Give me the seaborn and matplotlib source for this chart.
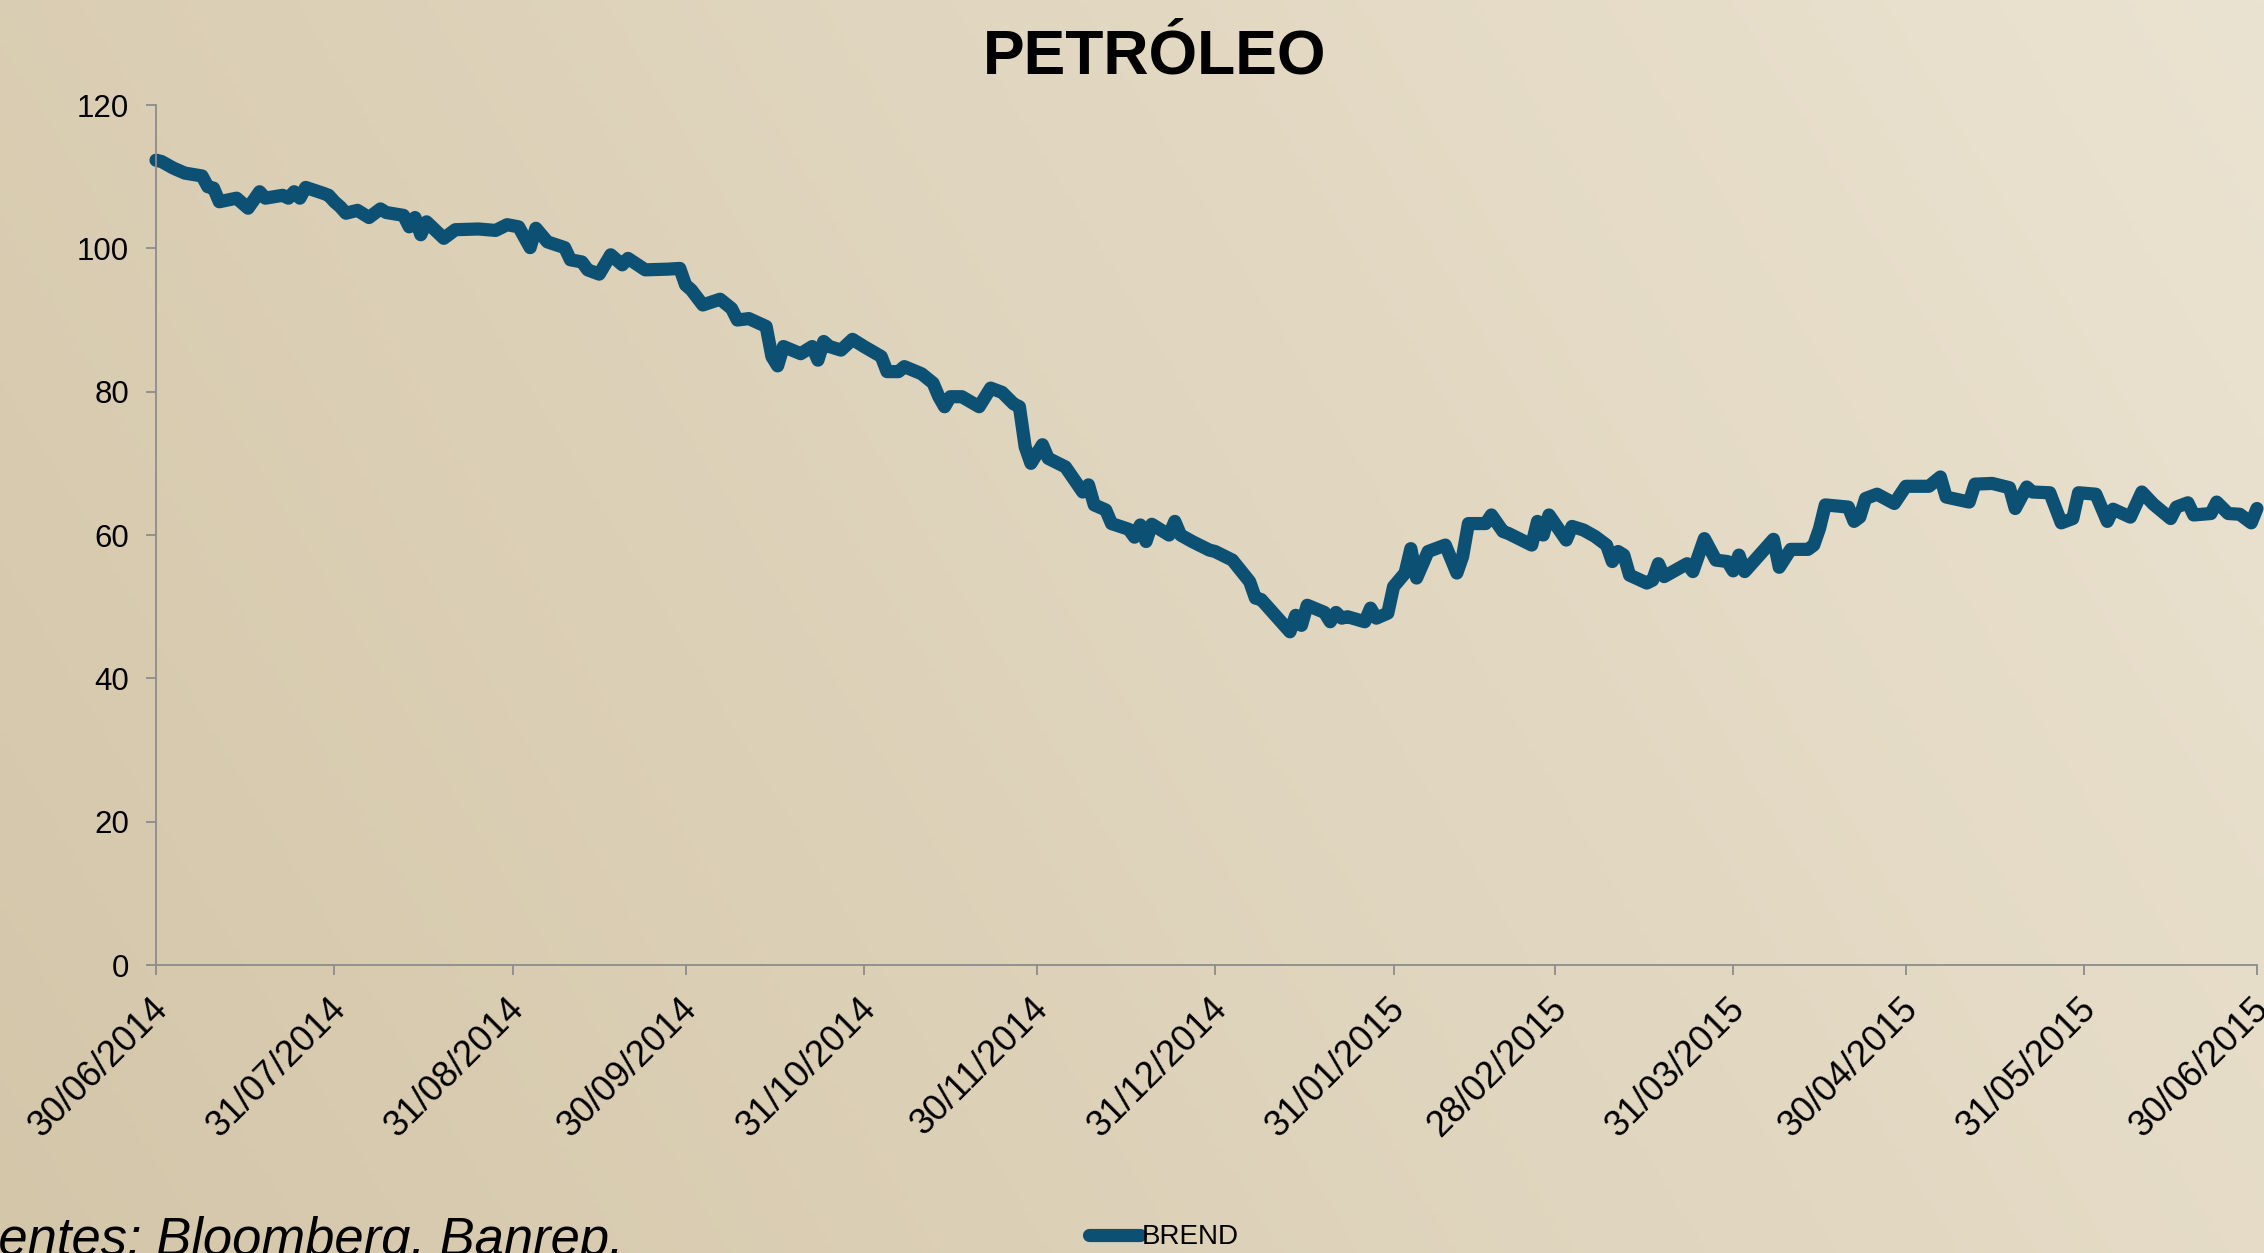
import numpy as np
import pandas as pd
import matplotlib
matplotlib.use('Agg')
import matplotlib.pyplot as plt
import matplotlib.transforms as mtransforms
import seaborn as sns

# ----------------------------------------------------------------------
# Datos: precio Brent (USD/barril)
# dias = dias transcurridos desde INICIO
# ----------------------------------------------------------------------
INICIO = '2014-06-30'
dias = [0, 1, 3, 5, 8, 9, 10, 11, 14, 16, 18, 19, 22, 23, 24, 25, 26, 29, 30, 31,
        32, 33, 35, 37, 39, 40, 43, 44, 45, 46, 47, 50, 52, 56, 59, 61, 63, 65, 66, 68,
        71, 72, 74, 75, 77, 79, 81, 82, 85, 89, 91, 92, 93, 95, 98, 100, 101, 103, 106, 107,
        108, 109, 112, 114, 115, 116, 117, 119, 121, 123, 126, 127, 129, 130, 133, 135, 136, 137, 138, 140,
        143, 145, 147, 149, 150, 151, 152, 154, 155, 158, 161, 162, 163, 165, 166, 169, 170, 171, 172, 173,
        176, 177, 178, 180, 183, 184, 187, 190, 191, 192, 197, 198, 199, 200, 203, 204, 205, 206, 207, 210,
        211, 212, 214, 215, 217, 218, 219, 221, 224, 226, 227, 228, 231, 232, 234, 235, 239, 240, 241, 242,
        245, 246, 248, 250, 252, 253, 254, 255, 256, 259, 260, 261, 262, 264, 266, 267, 269, 271, 273, 274,
        275, 276, 281, 282, 284, 287, 288, 289, 290, 294, 295, 296, 297, 299, 302, 304, 308, 310, 311, 315,
        316, 319, 322, 323, 325, 326, 329, 331, 333, 334, 337, 339, 340, 343, 345, 347, 350, 351, 353, 354,
        357, 358, 360, 362, 364, 365]
precios = [112.3, 112.1, 111.2, 110.5, 110.1, 108.6, 108.4, 106.5, 107.0, 105.6, 107.9, 107.0, 107.4, 107.0, 107.9, 107.0, 108.5, 107.7, 107.4, 106.5,
           105.8, 104.9, 105.3, 104.3, 105.5, 105.0, 104.6, 103.0, 104.3, 101.9, 103.7, 101.4, 102.6, 102.7, 102.5, 103.3, 103.0, 100.1, 102.8, 100.9,
           100.1, 98.4, 98.1, 97.0, 96.4, 99.1, 97.7, 98.6, 97.0, 97.1, 97.2, 94.9, 94.2, 92.1, 92.9, 91.6, 90.0, 90.2, 89.1, 84.9,
           83.6, 86.3, 85.3, 86.3, 84.4, 87.0, 86.3, 85.8, 87.3, 86.3, 84.9, 82.8, 82.8, 83.5, 82.5, 81.2, 79.3, 77.9, 79.3, 79.3,
           77.9, 80.5, 79.9, 78.3, 77.9, 72.3, 70.0, 72.6, 70.7, 69.5, 66.0, 67.0, 64.2, 63.5, 61.6, 60.8, 59.7, 61.4, 59.1, 61.5,
           60.0, 61.9, 60.0, 59.1, 57.9, 57.7, 56.5, 53.5, 51.2, 51.0, 46.5, 48.8, 47.4, 50.2, 49.2, 47.9, 49.2, 48.4, 48.6, 47.9,
           49.8, 48.4, 49.1, 52.8, 54.7, 58.1, 54.0, 57.7, 58.6, 54.7, 57.0, 61.6, 61.6, 62.8, 60.5, 60.2, 58.6, 61.9, 60.0, 62.8,
           59.3, 61.2, 60.7, 59.8, 58.6, 56.3, 57.7, 57.2, 54.4, 53.3, 53.7, 56.0, 54.2, 55.1, 56.0, 54.9, 59.5, 56.5, 56.3, 55.0,
           57.2, 54.9, 59.4, 55.5, 58.0, 58.0, 58.6, 60.9, 64.2, 63.9, 61.9, 62.5, 65.1, 65.7, 64.4, 66.8, 66.8, 68.1, 65.3, 64.6,
           67.1, 67.2, 66.6, 63.7, 66.7, 66.0, 65.9, 61.7, 62.3, 65.9, 65.7, 61.9, 63.6, 62.5, 66.0, 64.3, 62.3, 63.9, 64.5, 62.8,
           63.0, 64.6, 63.0, 62.9, 61.7, 63.7]

ticks_fechas = ['2014-06-30', '2014-07-31', '2014-08-31', '2014-09-30', '2014-10-31',
                '2014-11-30', '2014-12-31', '2015-01-31', '2015-02-28', '2015-03-31',
                '2015-04-30', '2015-05-31', '2015-06-30']
ticks_y = [0, 20, 40, 60, 80, 100, 120]

AZUL = '#0C5074'
GRIS = '#8C8C8C'
FONDO_OSCURO = np.array([212, 198, 169]) / 255
FONDO_CLARO = np.array([235, 227, 209]) / 255

sns.set_theme(style='ticks')
plt.rcParams['font.family'] = ['Liberation Sans', 'DejaVu Sans']
plt.rcParams['text.color'] = 'black'

fig = plt.figure(figsize=(22.64, 12.53), dpi=100)

# fondo tipo papel: degradado suave de abajo-izquierda a arriba-derecha
bg = fig.add_axes([0, 0, 1, 1], zorder=-1)
gx, gy = np.meshgrid(np.linspace(0, 1, 400), np.linspace(0, 1, 250))
t = (0.75 * gx + 0.25 * gy)[..., None]
bg.imshow(FONDO_OSCURO * (1 - t) + FONDO_CLARO * t, extent=[0, 1, 0, 1],
          aspect='auto', origin='lower')
bg.axis('off')

ax = fig.add_axes([0.0689, 0.2298, 0.928, 0.6864])
ax.patch.set_alpha(0)

df = pd.DataFrame({
    'fecha': pd.Timestamp(INICIO) + pd.to_timedelta(dias, unit='D'),
    'precio': precios,
})
sns.lineplot(data=df, x='fecha', y='precio', ax=ax, color=AZUL,
             linewidth=9.5, label='BREND', legend=False)
linea = ax.lines[0]
linea.set_solid_capstyle('round')
linea.set_solid_joinstyle('round')
linea.set_clip_on(False)

ticks = pd.to_datetime(ticks_fechas)
ax.set_xlim(ticks[0], ticks[-1])
ax.set_ylim(0, 120)
ax.set_xticks(ticks)
ax.set_xticklabels([d.strftime('%d/%m/%Y') for d in ticks])
ax.set_yticks(ticks_y)
ax.set_xlabel('')
ax.set_ylabel('')

for side in ['top', 'right']:
    ax.spines[side].set_visible(False)
for side in ['left', 'bottom']:
    ax.spines[side].set_color(GRIS)
    ax.spines[side].set_linewidth(1.3)

ax.tick_params(axis='both', colors=GRIS, labelcolor='black', length=7.5, width=1.3)
ax.tick_params(axis='y', labelsize=22.5, pad=12)
ax.tick_params(axis='x', labelsize=26, pad=11)

# etiquetas de fecha giradas, ancladas por su extremo superior derecho
desplaza = mtransforms.ScaledTranslation(-6 / 100, 0, fig.dpi_scale_trans)
for lab in ax.get_xticklabels():
    lab.set_rotation(45)
    lab.set_ha('right')
    lab.set_va('top')
    lab.set_rotation_mode('anchor')
    lab.set_transform(lab.get_transform() + desplaza)

fig.text(0.510, 0.941, 'PETRÓLEO', ha='center', va='baseline',
         fontsize=45, fontweight='bold', color='black')
fig.text(-0.028, -0.0016, 'Fuentes: Bloomberg, Banrep.', ha='left', va='baseline',
         fontsize=37.8, style='italic', color='black')

handles, labels = ax.get_legend_handles_labels()
fig.legend(handles, labels, loc='center', bbox_to_anchor=(0.514, 0.0125),
           frameon=False, fontsize=20, handlelength=1.85, handletextpad=0.05,
           borderpad=0, borderaxespad=0, labelcolor='black')

fig.savefig('out.png', dpi=100)
plt.close(fig)
